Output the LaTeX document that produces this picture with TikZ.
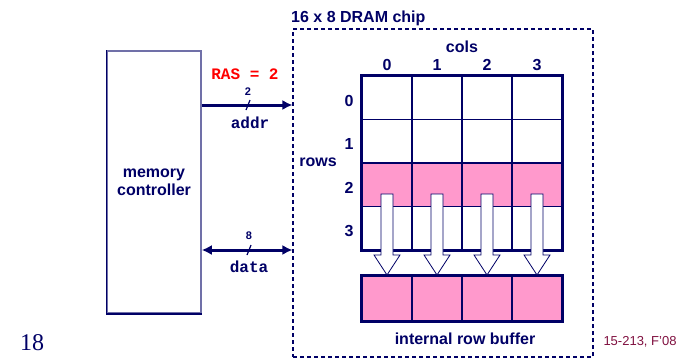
\documentclass[tikz,border=0pt]{standalone}
\usepackage{fontspec}
\setmainfont{Liberation Sans}
\newfontfamily\slidefont{Liberation Serif}
\newfontfamily\codefont{Liberation Mono}
\usepackage{tikz}
\usetikzlibrary{positioning,arrows.meta}
\definecolor{navy}{RGB}{0,0,102}
\definecolor{cellpink}{RGB}{255,153,204}
\definecolor{boxgray}{RGB}{112,112,168}
\definecolor{coursered}{RGB}{128,16,64}

\begin{document}
\begin{tikzpicture}[x=1pt, y=-1pt, every node/.style={font=\bfseries\fontsize{16}{18}\selectfont, text=navy}]
    \tikzset{cell/.style={draw=navy, line width=1.3pt, minimum width=50pt, minimum height=43.5pt, inner sep=0pt},
        bus/.style={navy, line width=3pt},
        code/.style={font=\codefont\bfseries\fontsize{16}{18}\selectfont},
        buswidth/.style={font=\bfseries\fontsize{11}{12}\selectfont},
        blockarrow/.style={draw=navy, fill=white, line width=0.8pt, line join=miter}}
    \useasboundingbox (0,0) rectangle (690,359);
    % memory controller
    \node[draw=boxgray, line width=1.5pt, minimum width=94pt, minimum height=262pt, inner sep=0pt, align=center] (mc) at (154,182) {memory\\controller};
    \draw[navy, line width=1.5pt] (mc.north west) -- (mc.south west) -- (mc.south east);
    % chip
    \node[draw=navy, line width=1.1pt, dash pattern=on 4pt off 3pt, minimum width=300pt, minimum height=328pt, inner sep=0pt] (chip) at (443,193) {};
    \node[anchor=base west, inner sep=0pt] (title) at (291,22) {16 x 8 DRAM chip};
    % cells
    \foreach \r/\fc in {0/white,1/white,2/cellpink,3/white}
        \foreach \c in {0,...,3}
            \node[cell, fill=\fc] (c-\r-\c) at ({387+50*\c},{97.75+43.5*\r}) {};
    \draw[navy, line width=3pt] (c-0-0.north west) rectangle (c-3-3.south east);
    \foreach \c in {0,...,3}
        \node (col-\c) at ({387+50*\c},65) {\c};
    \foreach \r in {0,...,3}
        \node (row-\r) at (349,{100.75+43.5*\r}) {\r};
    \node (cols) at (462,47) {cols};
    \node (rows) at (318,162) {rows};
    % row buffer
    \foreach \c in {0,...,3}
        \node[cell, fill=cellpink, minimum height=45.5pt] (b-\c) at ({387+50*\c},298.5) {};
    \draw[navy, line width=3pt] (b-0.north west) rectangle (b-3.south east);
    \node (buf) at (465,339) {internal row buffer};
    \foreach \c in {0,...,3}
        \draw[blockarrow, shift={({387+50*\c},0)}] (-6,194) -- (6,194) -- (6,255) -- (13,255) -- (0,275) -- (-13,255) -- (-6,255) -- cycle;
    % address and data lines
    \coordinate (addr-y) at (0,105);
    \coordinate (data-y) at (0,250);
    \coordinate (addr-bit) at (248,105);
    \coordinate (data-bit) at (249,250);
    \draw[bus, -{Latex[length=10pt,width=10pt]}] (mc.east |- addr-y) -- (chip.west |- addr-y);
    \draw[bus, {Latex[length=10pt,width=10pt]}-{Latex[length=10pt,width=10pt]}] (mc.east |- data-y) -- (chip.west |- data-y);
    \draw[navy, line width=1.2pt] ([shift={(-2,5)}]addr-bit) -- ([shift={(2,-5)}]addr-bit);
    \draw[navy, line width=1.2pt] ([shift={(-2,5)}]data-bit) -- ([shift={(2,-5)}]data-bit);
    \node[buswidth] (addr-n) at (248,92) {2};
    \node[buswidth] (data-n) at (249,236) {8};
    \node[code] (addr) at (250,123) {addr};
    \node[code] (data) at (249,267) {data};
    \node[code, text=red] (ras) at (245,74) {RAS = 2};
    % slide footer
    \node[font=\slidefont\fontsize{24}{24}\selectfont] (page) at (32,343) {18};
    \node[font=\fontsize{13}{14}\selectfont, text=coursered] (course) at (640,342) {15-213, F'08};
\end{tikzpicture}
\end{document}
